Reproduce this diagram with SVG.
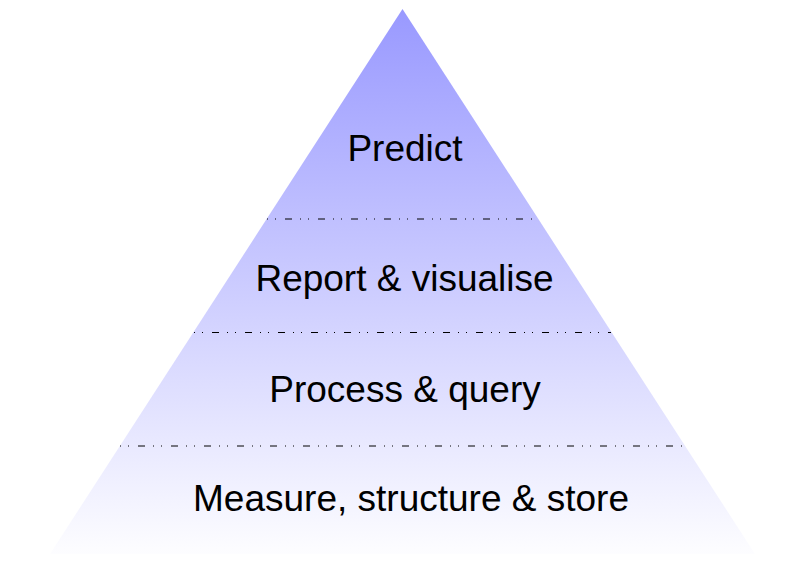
<svg xmlns="http://www.w3.org/2000/svg" width="794" height="582" viewBox="0 0 794 582">
  <style>
    .lbl { font-family: "Liberation Sans", Arial, sans-serif; font-size: 37px; fill: #000; text-anchor: middle; }
    .sep { stroke: #000; stroke-width: 1; fill: none; stroke-dasharray: 1 7 1 9 7 8; }
  </style>
  <defs>
    <linearGradient id="grad" gradientUnits="userSpaceOnUse" x1="0" y1="9" x2="0" y2="554">
      <stop offset="0" stop-color="#9999ff"/>
      <stop offset="1" stop-color="#fdfdff"/>
    </linearGradient>
  </defs>
  <rect width="794" height="582" fill="#ffffff"/>
  <g id="pyramid">
    <polygon points="402.5,9 755,554 50,554" fill="url(#grad)"/>
  </g>
  <g id="separators">
    <line class="sep" x1="267" y1="219" x2="538" y2="219"/>
    <line class="sep" x1="194" y1="332.5" x2="611" y2="332.5"/>
    <line class="sep" x1="120" y1="446" x2="685" y2="446"/>
  </g>
  <g id="layer-predict">
    <text class="lbl" x="405" y="161">Predict</text>
  </g>
  <g id="layer-report">
    <text class="lbl" x="404.5" y="291">Report &amp; visualise</text>
  </g>
  <g id="layer-process">
    <text class="lbl" x="405" y="402">Process &amp; query</text>
  </g>
  <g id="layer-measure">
    <text class="lbl" x="411" y="511">Measure, structure &amp; store</text>
  </g>
</svg>
